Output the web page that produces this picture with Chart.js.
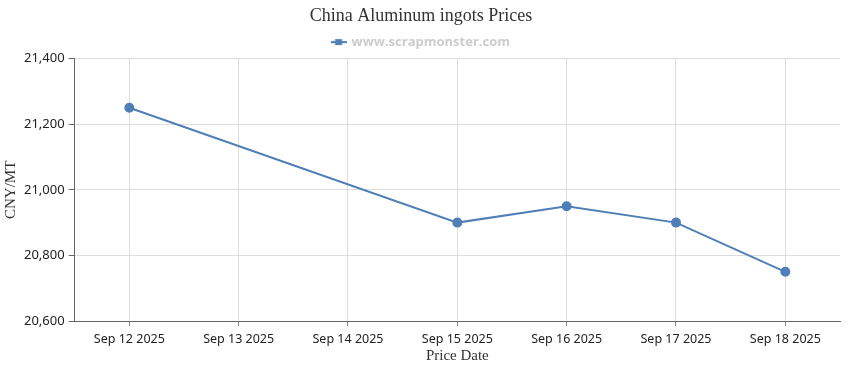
<!DOCTYPE html>
<html>
<head>
<meta charset="utf-8">
<script src="https://cdn.jsdelivr.net/npm/chart.js@4.4.1/dist/chart.umd.min.js"></script>
<style>
  html, body { margin: 0; padding: 0; background: #fff; }
  #wrap { width: 850px; height: 370px; }
</style>
</head>
<body>
<div id="wrap"><canvas id="priceChart"></canvas></div>
<script>
const dates = ['Sep 12 2025', 'Sep 13 2025', 'Sep 14 2025', 'Sep 15 2025', 'Sep 16 2025', 'Sep 17 2025', 'Sep 18 2025'];
const prices = [21250, null, null, 20900, 20950, 20900, 20750];
const yTicks = [20600, 20800, 21000, 21200, 21400];

const lineBlue = '#4f7fb6';

// legend marker: short line with a square in the middle
function legendMarker() {
    const c = document.createElement('canvas');
    c.width = 16; c.height = 8;
    const g = c.getContext('2d');
    g.strokeStyle = lineBlue;
    g.lineWidth = 2;
    g.beginPath(); g.moveTo(0, 4); g.lineTo(16, 4); g.stroke();
    g.fillStyle = lineBlue;
    g.fillRect(4.5, 1, 7, 6);
    return c;
}

document.addEventListener('DOMContentLoaded', () => {
    const ctx = document.getElementById('priceChart');
    new Chart(ctx, {
        type: 'line',
        data: {
            labels: dates,
            datasets: [{
                label: 'www.scrapmonster.com',
                data: prices,
                borderColor: lineBlue,
                backgroundColor: lineBlue,
                borderWidth: 2,
                pointRadius: 4,
                pointHoverRadius: 5,
                pointStyle: 'circle',
                spanGaps: true,
                tension: 0
            }]
        },
        options: {
            responsive: true,
            maintainAspectRatio: false,
            animation: false,
            layout: { padding: { left: 2, right: 10, top: 3, bottom: 2 } },
            plugins: {
                title: {
                    display: true,
                    text: 'China Aluminum ingots Prices',
                    color: '#333',
                    font: { family: 'Liberation Serif', size: 18, weight: 'normal' },
                    padding: { top: 2, bottom: 0 }
                },
                legend: {
                    position: 'top',
                    labels: {
                        usePointStyle: true,
                        pointStyle: legendMarker(),
                        color: '#cccccc',
                        font: { family: 'Open Sans', size: 13, weight: 'bold' },
                        padding: 9
                    }
                },
                tooltip: { enabled: false }
            },
            scales: {
                x: {
                    offset: true,
                    grid: { color: '#dddddd', tickColor: '#888', tickLength: 5, offset: false },
                    border: { color: '#666' },
                    ticks: { color: '#222', font: { family: 'Noto Sans', size: 12.5 }, maxRotation: 0, padding: 6 },
                    title: {
                        display: true,
                        text: 'Price Date',
                        color: '#333',
                        font: { family: 'Liberation Serif', size: 15 },
                        padding: { top: -6, bottom: 3 }
                    }
                },
                y: {
                    min: yTicks[0],
                    max: yTicks[yTicks.length - 1],
                    afterBuildTicks: axis => { axis.ticks = yTicks.map(v => ({ value: v })); },
                    grid: { color: '#dddddd', tickColor: '#666', tickLength: 6 },
                    border: { color: '#666' },
                    ticks: {
                        color: '#222',
                        font: { family: 'Noto Sans', size: 13 },
                        padding: 4,
                        callback: v => v.toLocaleString('en-US')
                    },
                    title: {
                        display: true,
                        text: 'CNY/MT',
                        color: '#333',
                        font: { family: 'Liberation Serif', size: 15 },
                        padding: { top: 0, bottom: 0 }
                    }
                }
            }
        }
    });
});
</script>
</body>
</html>
